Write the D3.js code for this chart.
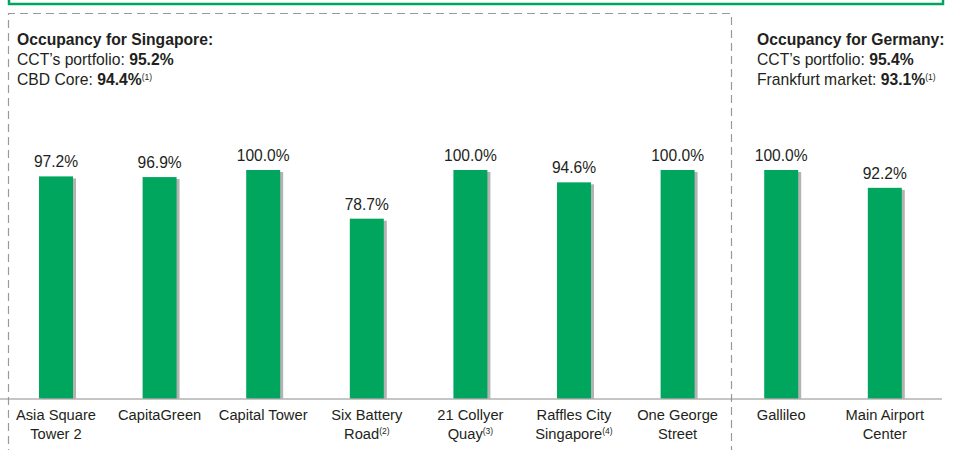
<!DOCTYPE html>
<html lang="en">
<head>
    <meta charset="utf-8">
    <title>Occupancy</title>
    <script src="https://d3js.org/d3.v7.min.js"></script>
    <style>
        body {
            margin: 0;
            font-family: "Liberation Sans", Arial, sans-serif;
            background: #fff;
        }
        text {
            fill: #231f20;
        }
        .hdr {
            font-size: 15.7px;
        }
        .val {
            font-size: 15.6px;
            text-anchor: middle;
        }
        .cat {
            font-size: 14.7px;
            text-anchor: middle;
        }
        .sup {
            font-size: 8.5px;
        }
    </style>
</head>
<body>
    <svg id="chart" width="954" height="450"></svg>
    <script>
        const categories = ['Asia Square Tower 2', 'CapitaGreen', 'Capital Tower', 'Six Battery Road',
            '21 Collyer Quay', 'Raffles City Singapore', 'One George Street', 'Gallileo', 'Main Airport Center'];
        const labelLines = [['Asia Square', 'Tower 2'], ['CapitaGreen'], ['Capital Tower'], ['Six Battery', 'Road'],
            ['21 Collyer', 'Quay'], ['Raffles City', 'Singapore'], ['One George', 'Street'], ['Gallileo'], ['Main Airport', 'Center']];
        const notes = ['', '', '', '(2)', '(3)', '(4)', '', '', ''];
        const occupancy = [97.2, 96.9, 100.0, 78.7, 100.0, 94.6, 100.0, 100.0, 92.2];

        const svg = d3.select('#chart');
        const green = '#00a65d';

        const x = d3.scaleBand()
            .domain(categories)
            .range([4.2, 936.6])
            .paddingInner(0.672)
            .paddingOuter(0.336);
        const y = d3.scaleLinear()
            .domain([0, 100])
            .range([398.5, 170]);

        // green box edge at top
        svg.append('rect')
            .attr('x', 9).attr('y', -10)
            .attr('width', 934).attr('height', 14)
            .attr('fill', 'none')
            .attr('stroke', green)
            .attr('stroke-width', 2.5);

        // dashed Singapore box
        svg.append('path')
            .attr('d', 'M8.5,470 V13.5 H731.5 V470')
            .attr('fill', 'none')
            .attr('stroke', '#9a9a9a')
            .attr('stroke-width', 1.2)
            .attr('stroke-dasharray', '8,5');

        // headers
        function header(xPos, title, rows) {
            const g = svg.append('g');
            g.append('text').attr('class', 'hdr').attr('x', xPos).attr('y', 45)
                .style('font-weight', 'bold').text(title);
            rows.forEach((r, i) => {
                const t = g.append('text').attr('class', 'hdr').attr('x', xPos).attr('y', 65 + i * 20);
                t.append('tspan').text(r[0]);
                t.append('tspan').style('font-weight', 'bold').text(r[1]);
                if (r[2]) t.append('tspan').attr('class', 'sup').attr('dy', -5).text(r[2]);
            });
        }
        header(17, 'Occupancy for Singapore:', [["CCT\u2019s portfolio: ", '95.2%'], ['CBD Core: ', '94.4%', '(1)']]);
        header(757, 'Occupancy for Germany:', [["CCT\u2019s portfolio: ", '95.4%'], ['Frankfurt market: ', '93.1%', '(1)']]);

        // bars with shadow
        const bars = svg.append('g');
        bars.selectAll('.shadow')
            .data(occupancy)
            .enter().append('rect')
            .attr('class', 'shadow')
            .attr('x', (d, i) => x(categories[i]) + 3)
            .attr('y', d => y(d) + 2)
            .attr('width', x.bandwidth())
            .attr('height', d => y(0) - y(d) - 2)
            .attr('fill', '#b3b3b3');
        bars.selectAll('.bar')
            .data(occupancy)
            .enter().append('rect')
            .attr('class', 'bar')
            .attr('x', (d, i) => x(categories[i]))
            .attr('y', d => y(d))
            .attr('width', x.bandwidth())
            .attr('height', d => y(0) - y(d))
            .attr('fill', green);

        // baseline
        svg.append('line')
            .attr('x1', 0).attr('x2', 942)
            .attr('y1', y(0) + 0.5).attr('y2', y(0) + 0.5)
            .attr('stroke', '#8c8c8c')
            .attr('stroke-width', 1);

        // value labels
        svg.selectAll('.val')
            .data(occupancy)
            .enter().append('text')
            .attr('class', 'val')
            .attr('x', (d, i) => x(categories[i]) + x.bandwidth() / 2)
            .attr('y', d => y(d) - 9)
            .text(d => d.toFixed(1) + '%');

        // category labels
        categories.forEach((c, i) => {
            const cx = x(c) + x.bandwidth() / 2;
            const t = svg.append('text').attr('class', 'cat').attr('x', cx).attr('y', 420);
            labelLines[i].forEach((line, j) => {
                t.append('tspan').attr('x', cx).attr('dy', j === 0 ? 0 : 19).text(line);
            });
            if (notes[i]) {
                t.append('tspan').attr('class', 'sup').attr('dy', -5).text(notes[i]);
            }
        });
    </script>
</body>
</html>
